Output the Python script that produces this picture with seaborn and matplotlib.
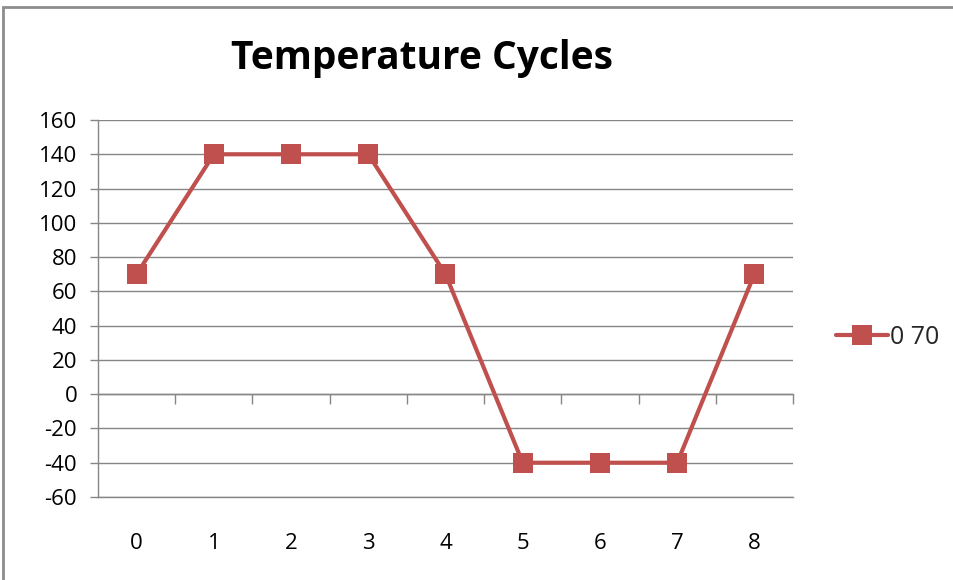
import matplotlib
matplotlib.use("Agg")
import matplotlib.pyplot as plt
import seaborn as sns
import pandas as pd
from matplotlib.patches import Rectangle

categories = [0, 1, 2, 3, 4, 5, 6, 7, 8]
temps = [70, 140, 140, 140, 70, -40, -40, -40, 70]
series_name = "0 70"
y_ticks = [-60, -40, -20, 0, 20, 40, 60, 80, 100, 120, 140, 160]
title = "Temperature Cycles"

df = pd.DataFrame({"cat": categories, "temp": temps})

sns.set_theme(style="white")
plt.rcParams["font.family"] = ["Open Sans", "DejaVu Sans"]
plt.rcParams["axes.unicode_minus"] = False

W, H = 954, 580
fig = plt.figure(figsize=(W / 100, H / 100), dpi=100)
ax = fig.add_axes([98 / W, 1 - 497 / H, (793 - 98) / W, (497 - 120) / H])

red = "#C0504D"
grid = "#868686"

sns.lineplot(data=df, x="cat", y="temp", ax=ax, color=red, linewidth=3.0,
             marker="s", markersize=14, markeredgewidth=0, label=series_name,
             zorder=5)

ax.set_xlim(-0.5, 8.5)
ax.set_ylim(-60, 160)
ax.set_yticks(y_ticks)
ax.set_yticklabels([str(v) for v in y_ticks])
ax.set_xticks(categories)
ax.set_xticklabels([str(c) for c in categories])
ax.set_xlabel("")
ax.set_ylabel("")

ax.yaxis.grid(True, color=grid, linewidth=1.0)
ax.set_axisbelow(True)
for s in ["top", "right"]:
    ax.spines[s].set_visible(False)
for s in ["left", "bottom"]:
    ax.spines[s].set_color(grid)
    ax.spines[s].set_linewidth(1.0)

ax.tick_params(axis="y", direction="out", length=6, width=1, color=grid,
               labelsize=16, pad=9, left=True, labelcolor="black")
ax.tick_params(axis="x", length=0, labelsize=16, pad=26, labelcolor="black")

# category axis crossing at y=0 with tick marks between categories
sec = ax.secondary_xaxis((0 - (-60)) / 220)
sec.set_xticks([c + 0.5 for c in categories])
sec.set_xticklabels([])
sec.tick_params(axis="x", direction="out", length=7, width=1, color=grid)
sec.spines["bottom"].set_color(grid)
sec.spines["bottom"].set_linewidth(1.0)

fig.text(422 / W, 1 - 58 / H, title, ha="center", va="center",
         fontsize=28, fontweight="bold", color="black")

ax.legend(loc="center left", bbox_to_anchor=(826 / W, 1 - 337 / H),
          bbox_transform=fig.transFigure, frameon=False, fontsize=18,
          handlelength=2.1, handletextpad=0.05, borderaxespad=0)

fig.patches.append(Rectangle((2.5 / W, -0.1), 1.2, 1.1 - 7 / H,
                             transform=fig.transFigure, fill=False,
                             edgecolor="#8c8c8c", linewidth=2,
                             clip_on=False))

fig.savefig("out.png", dpi=100)
